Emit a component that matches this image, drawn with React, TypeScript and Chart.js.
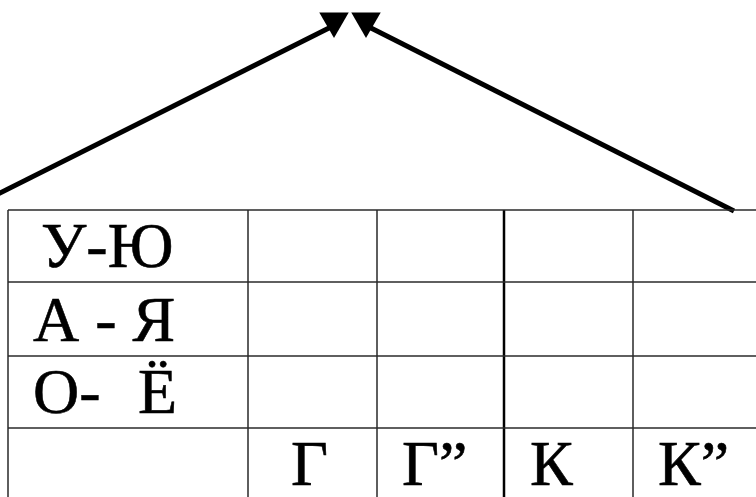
import React, { useEffect, useRef } from "react";
import { Chart, registerables } from "chart.js";

Chart.register(...registerables);

// Content of the diagram
const rowLabels = ["У-Ю", "А - Я", "О-  \u200AЁ", ""];
const columnLabels = ["", "Г", "Г”", "К", "К”"];

// Table grid (in canvas units of the scales)
const columnEdges = [8, 248, 377, 504, 633];
const rowEdges = [210, 282, 356, 428, 500];
const tableRight = 770;
const tableBottom = 505;

// Arrows converging at the top
const leftArrow = [
  { x: -4, y: 195 },
  { x: 331, y: 27 },
];
const rightArrow = [
  { x: 734, y: 211 },
  { x: 369, y: 27 },
];
const arrowHeads = [
  { x: 334, y: 21 },
  { x: 366, y: 21 },
];

// Text layout
const rowLabelX = [41, 33, 33];
const columnLabelX = [0, 291, 402, 530, 658];
const baselineOffset = 15;

const FONT = '64px "Liberation Serif"';

export default function App() {
  const ref = useRef<HTMLCanvasElement | null>(null);

  useEffect(() => {
    if (!ref.current) return;
    let chart: Chart | null = null;
    let cancelled = false;

    const lineDs = (data: { x: number; y: number }[], width: number, color: string) => ({
      type: "scatter" as const,
      data,
      showLine: true,
      borderColor: color,
      backgroundColor: color,
      borderWidth: width,
      pointRadius: 0,
      fill: false,
      clip: false as any,
    });

    const datasets: any[] = [];
    rowEdges.slice(0, 4).forEach((y) => {
      datasets.push(
        lineDs(
          [
            { x: columnEdges[0], y },
            { x: tableRight, y },
          ],
          1.5,
          "#2a2a2a"
        )
      );
    });
    columnEdges.forEach((x, i) => {
      datasets.push(
        lineDs(
          [
            { x, y: rowEdges[0] },
            { x, y: tableBottom },
          ],
          i === 3 ? 2.5 : 1.5,
          i === 3 ? "#000" : "#2a2a2a"
        )
      );
    });
    datasets.push(lineDs(leftArrow, 5, "#000"));
    datasets.push(lineDs(rightArrow, 5, "#000"));
    datasets.push({
      type: "scatter",
      data: arrowHeads,
      pointStyle: "triangle",
      rotation: 180,
      pointRadius: 17,
      pointBackgroundColor: "#000",
      pointBorderColor: "#000",
      pointBorderWidth: 0,
      clip: false,
    });

    const textPlugin = {
      id: "tableText",
      afterDatasetsDraw(c: any) {
        const { ctx, scales } = c;
        const xs = scales.x;
        const ys = scales.y;
        ctx.save();
        ctx.fillStyle = "#000";
        ctx.strokeStyle = "#000";
        ctx.lineWidth = 0.6;
        ctx.font = FONT;
        ctx.textBaseline = "alphabetic";
        ctx.textAlign = "left";
        const draw = (t: string, x: number, y: number) => {
          ctx.fillText(t, x, y);
          ctx.strokeText(t, x, y);
        };
        rowLabels.forEach((label, i) => {
          if (!label) return;
          draw(label, xs.getPixelForValue(rowLabelX[i]), ys.getPixelForValue(rowEdges[i + 1] - baselineOffset));
        });
        columnLabels.forEach((label, i) => {
          if (!label) return;
          draw(label, xs.getPixelForValue(columnLabelX[i]), ys.getPixelForValue(rowEdges[4] - baselineOffset));
        });
        ctx.restore();
      },
    };

    const bg = {
      id: "bg",
      beforeDraw(c: any) {
        const { ctx, width, height } = c;
        ctx.save();
        ctx.fillStyle = "#fff";
        ctx.fillRect(0, 0, width, height);
        ctx.restore();
      },
    };

    const build = () => {
      if (cancelled || !ref.current) return;
      chart = new Chart(ref.current, {
        type: "scatter",
        data: { datasets },
        options: {
          responsive: false,
          animation: false,
          devicePixelRatio: 1,
          layout: { padding: 0, autoPadding: false },
          plugins: {
            legend: { display: false },
            tooltip: { enabled: false },
            title: { display: false },
          },
          events: [],
          scales: {
            x: { type: "linear", min: 0, max: 756, display: false },
            y: { type: "linear", min: 0, max: 497, reverse: true, display: false },
          },
        },
        plugins: [bg, textPlugin],
      });
    };

    const fonts: any = (document as any).fonts;
    if (fonts && fonts.load) {
      fonts.load(FONT, "У-ЮАЯОЁГК”").then(build, build);
    } else {
      build();
    }
    return () => {
      cancelled = true;
      if (chart) chart.destroy();
    };
  }, []);

  return (
    <div style={{ position: "fixed", left: 0, top: 0, width: 756, height: 497, background: "#fff" }}>
      <span style={{ position: "absolute", left: -9999, fontFamily: '"Liberation Serif"', fontSize: 64 }}>У-ЮАЯОЁГК”</span>
      <canvas ref={ref} width={756} height={497} style={{ display: "block" }} />
    </div>
  );
}
